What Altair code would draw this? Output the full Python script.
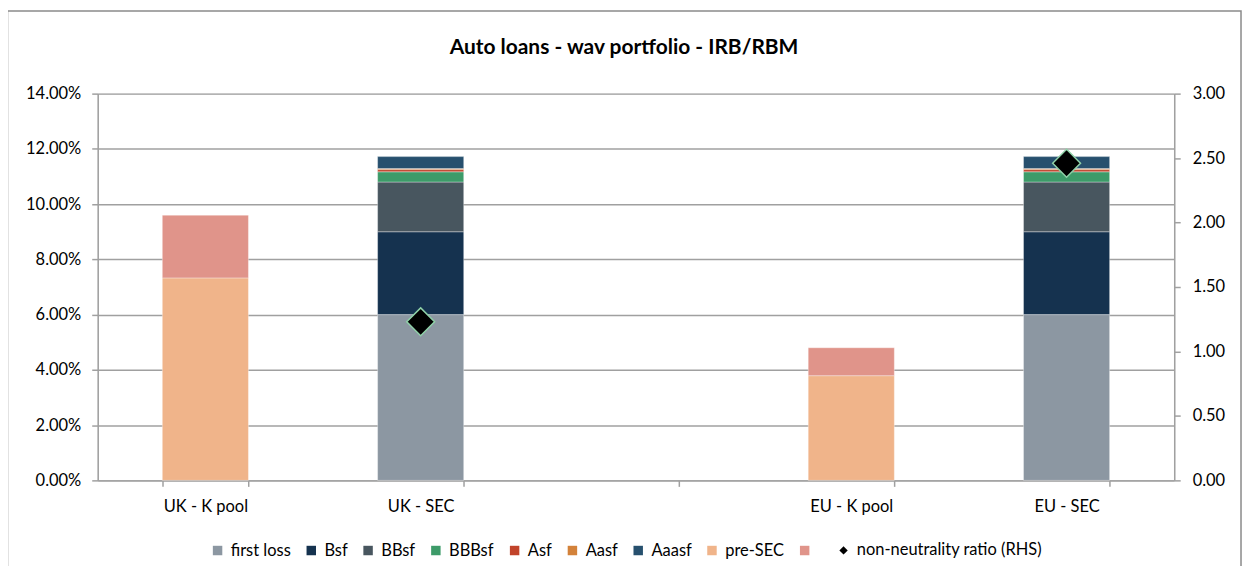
import altair as alt
import pandas as pd

categories = ["UK - K pool", "UK - SEC", " ", "EU - K pool", "EU - SEC"]
series = ["first loss", "Bsf", "BBsf", "BBBsf", "Asf", "Aasf", "Aaasf", "pre-SEC", "  "]
colors = ["#8c97a2", "#15324f", "#48565f", "#3d9b69", "#c1432a", "#d3823a", "#27506e", "#f0b48a", "#e0948a"]

# values in % of exposure, per series, per category (UK-K, UK-SEC, blank, EU-K, EU-SEC)
first_loss = [0, 6.00, 0, 0, 6.00]
bsf = [0, 3.00, 0, 0, 3.00]
bbsf = [0, 1.80, 0, 0, 1.80]
bbbsf = [0, 0.37, 0, 0, 0.37]
asf = [0, 0.08, 0, 0, 0.08]
aasf = [0, 0.04, 0, 0, 0.04]
aaasf = [0, 0.43, 0, 0, 0.43]
pre_sec = [7.33, 0, 0, 3.79, 0]
pink = [2.27, 0, 0, 1.01, 0]

ratio_categories = ["UK - SEC", "EU - SEC"]
ratio_values = [1.23, 2.46]
ratio_label = "non-neutrality ratio (RHS)"
title_text = "Auto loans - wav portfolio - IRB/RBM"

all_series = [first_loss, bsf, bbsf, bbbsf, asf, aasf, aaasf, pre_sec, pink]
rows = []
for i, (name, vals) in enumerate(zip(series, all_series)):
    for c, v in zip(categories, vals):
        if v > 0:
            rows.append({"category": c, "series": name, "value": v / 100.0, "idx": i})
df = pd.DataFrame(rows)
df_ratio = pd.DataFrame({"category": ratio_categories, "ratio": ratio_values, "label": [ratio_label] * 2})
df_box = pd.DataFrame({"a": [0]})

FONT = "Lato"
FS = 16.5
GRAY = "#a0a0a0"

xscale = alt.Scale(domain=categories, paddingInner=0.6, paddingOuter=0.3)

bars = alt.Chart(df).mark_bar(stroke="white", strokeOpacity=0.35, strokeWidth=1).encode(
    x=alt.X("category:N", scale=xscale, sort=categories,
            axis=alt.Axis(title=None, labelAngle=0, tickBand="extent", domainColor=GRAY,
                          domainWidth=1.5, tickColor=GRAY, tickWidth=1.5, tickSize=6,
                          labelPadding=12, labelFontSize=FS, labelFont=FONT, labelColor="#000")),
    y=alt.Y("value:Q", stack="zero", scale=alt.Scale(domain=[0, 0.14], nice=False),
            axis=alt.Axis(title=None, format=".2%", values=[0, 0.02, 0.04, 0.06, 0.08, 0.10, 0.12, 0.14],
                          grid=True, gridColor=GRAY, gridWidth=1.5, domainColor=GRAY, domainWidth=1.5,
                          tickColor=GRAY, tickWidth=1.5, tickSize=6, labelPadding=11,
                          labelFontSize=FS, labelFont=FONT, labelColor="#000")),
    color=alt.Color("series:N", scale=alt.Scale(domain=series, range=colors),
                    legend=alt.Legend(title=None, orient="none", legendX=112, legendY=450,
                                      direction="horizontal", columns=9, symbolType="square",
                                      symbolSize=90, symbolStrokeWidth=0, labelFont=FONT,
                                      labelFontSize=FS, labelColor="#000", columnPadding=12,
                                      labelOffset=5, padding=0, labelLimit=0)),
    order=alt.Order("idx:Q", sort="ascending"),
)

points = alt.Chart(df_ratio).mark_point(filled=True, size=780, color="black", stroke="#8fd1a8",
                                        strokeWidth=1.5, opacity=1).encode(
    x=alt.X("category:N", scale=xscale, sort=categories),
    y=alt.Y("ratio:Q", scale=alt.Scale(domain=[0, 3], nice=False),
            axis=alt.Axis(title=None, orient="right", format=".2f",
                          values=[0, 0.5, 1, 1.5, 2, 2.5, 3], grid=False, domainColor=GRAY,
                          domainWidth=1.5, tickColor=GRAY, tickWidth=1.5, tickSize=6,
                          labelPadding=12, labelFontSize=FS, labelFont=FONT, labelColor="#000")),
    shape=alt.Shape("label:N", scale=alt.Scale(domain=[ratio_label], range=["diamond"]),
                    legend=alt.Legend(title=None, orient="none", legendX=740, legendY=450,
                                      symbolFillColor="black", symbolStrokeColor="#8fd1a8",
                                      symbolStrokeWidth=1, symbolSize=70, labelFont=FONT,
                                      labelFontSize=FS, labelColor="#000", labelOffset=5,
                                      padding=0, labelLimit=0)),
)

box = alt.Chart(df_box).mark_rect(fill=None, stroke="#8a8a8a", strokeWidth=1.5).encode(
    x=alt.value(-90.5), x2=alt.value(1147), y=alt.value(-83), y2=alt.value(520)
)

title = alt.Chart(df_box).mark_text(text=title_text, font=FONT, fontSize=21, fontWeight="bold",
                                    color="#000", align="center", baseline="middle").encode(
    x=alt.value(528), y=alt.value(-46)
)

chart = alt.layer(box, title, bars, points).resolve_scale(
    y="independent", color="independent", shape="independent"
).properties(
    width=1080, height=388,
    autosize=alt.AutoSizeParams(type="none"),
    padding={"left": 90, "top": 85, "right": 70, "bottom": 85},
).configure_view(stroke=None).configure(background="white")

chart.save("out.html", embed_options={"renderer": "svg", "actions": False})
